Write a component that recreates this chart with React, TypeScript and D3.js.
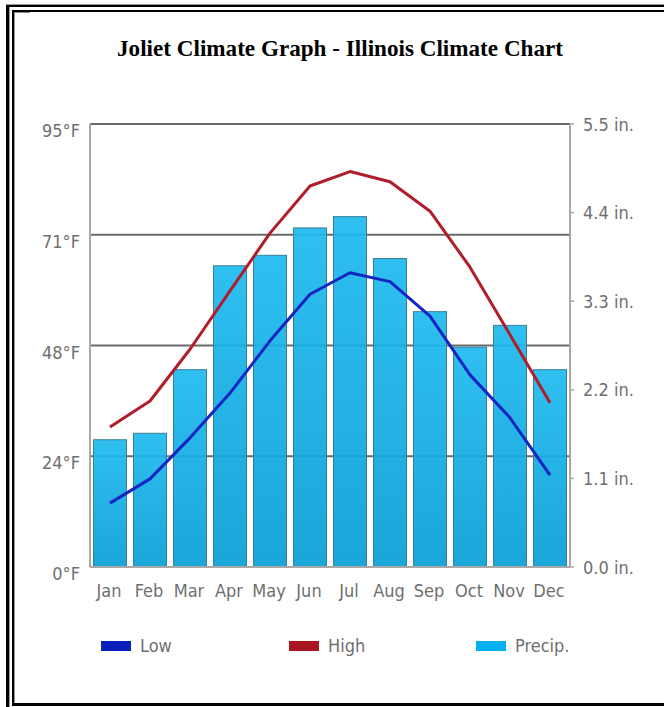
import React from "react";
import * as d3 from "d3";

const months = ["Jan", "Feb", "Mar", "Apr", "May", "Jun", "Jul", "Aug", "Sep", "Oct", "Nov", "Dec"];
const highF = [30, 35.6, 46.7, 59.2, 71.6, 81.7, 84.8, 82.6, 76.3, 64.3, 49.8, 35.2];
const lowF = [13.7, 18.9, 27.7, 37.3, 48.5, 58.5, 63.1, 61.2, 53.8, 41.2, 32, 19.7];
const precipIn = [1.58, 1.66, 2.45, 3.74, 3.87, 4.21, 4.35, 3.83, 3.17, 2.73, 3.0, 2.45];
const leftTickLabels = ["0°F", "24°F", "48°F", "71°F", "95°F"];
const leftTickValues = [0, 23.75, 47.5, 71.25, 95];
const rightTickValues = [0, 1.1, 2.2, 3.3, 4.4, 5.5];
const legendItems = [
  { label: "Low", color: "#0c1fbd" },
  { label: "High", color: "#a8151f" },
  { label: "Precip.", color: "#00b0f0" },
];

const W = 664;
const H = 707;
const plotLeft = 90;
const plotRight = 570;
const plotTop = 124;
const plotBottom = 567;

const labelFont = "'DejaVu Sans Condensed', 'DejaVu Sans', sans-serif";

export default function App() {
  const x = d3.scaleBand<string>().domain(months).range([plotLeft, plotRight]).paddingInner(0.175).paddingOuter(0.0875);
  const yT = d3.scaleLinear().domain([0, 95]).range([plotBottom, plotTop]);
  const yP = d3.scaleLinear().domain([0, 5.5]).range([plotBottom, plotTop]);
  const cx = (m: string) => (x(m) as number) + x.bandwidth() / 2;

  const lineHigh = d3.line<number>().x((_, i) => cx(months[i])).y((d) => yT(d))(highF) as string;
  const lineLow = d3.line<number>().x((_, i) => cx(months[i])).y((d) => yT(d))(lowF) as string;

  const legendX = [101, 289, 476];

  return (
    <svg width={W} height={H} style={{ position: "absolute", left: 0, top: 0, background: "#fff" }}>
      <defs>
        <linearGradient id="barGrad" x1="0" y1="0" x2="0" y2="1">
          <stop offset="0%" stopColor="#1fbaef" />
          <stop offset="100%" stopColor="#0a9fd7" />
        </linearGradient>
      </defs>
      <rect x={0} y={0} width={W} height={H} fill="#fff" />
      {/* frame */}
      <line x1={7.5} y1={5} x2={7.5} y2={H} stroke="#000" strokeWidth={3} />
      <line x1={9.5} y1={7} x2={9.5} y2={H} stroke="#999" strokeWidth={1} />
      <line x1={6} y1={4.5} x2={W} y2={4.5} stroke="#999" strokeWidth={1} />
      <line x1={6} y1={6} x2={W} y2={6} stroke="#000" strokeWidth={2} />
      <line x1={13} y1={10} x2={13} y2={706} stroke="#000" strokeWidth={2} />
      <line x1={14.5} y1={12} x2={14.5} y2={706} stroke="#999" strokeWidth={1} />
      <line x1={12} y1={11} x2={W} y2={11} stroke="#000" strokeWidth={2} />
      <line x1={14} y1={12.5} x2={30} y2={12.5} stroke="#888" strokeWidth={1} />
      <line x1={12} y1={704.5} x2={W} y2={704.5} stroke="#000" strokeWidth={3} />

      <text
        x={340}
        y={56}
        textAnchor="middle"
        fontFamily="'Liberation Serif', 'DejaVu Serif', serif"
        fontWeight="bold"
        fontSize={24}
        textLength={446}
        lengthAdjust="spacingAndGlyphs"
        fill="#000"
      >
        Joliet Climate Graph - Illinois Climate Chart
      </text>

      {/* gridlines */}
      {leftTickValues.map((v, i) => (
        <line key={"g" + i} x1={plotLeft} x2={plotRight} y1={yT(v)} y2={yT(v)} stroke="#6a6a6a" strokeWidth={2} />
      ))}

      {/* bars */}
      {precipIn.map((v, i) => (
        <rect
          key={"b" + i}
          x={x(months[i]) as number}
          y={yP(v)}
          width={x.bandwidth()}
          height={plotBottom - yP(v)}
          fill="url(#barGrad)"
          fillOpacity={0.93}
          stroke="#3a7f98"
          strokeWidth={1}
        />
      ))}

      {/* axes */}
      <line x1={plotLeft} x2={plotLeft} y1={plotTop} y2={plotBottom} stroke="#a8a8a8" strokeWidth={2} />
      <line x1={plotRight} x2={plotRight} y1={plotTop} y2={plotBottom} stroke="#a8a8a8" strokeWidth={2} />
      <line x1={plotLeft} x2={plotRight} y1={plotBottom} y2={plotBottom} stroke="#a8a8a8" strokeWidth={2} />
      {rightTickValues.map((v, i) => (
        <line key={"rt" + i} x1={plotRight} x2={plotRight + 4} y1={yP(v)} y2={yP(v)} stroke="#a8a8a8" strokeWidth={1.5} />
      ))}

      {/* lines */}
      <path d={lineHigh} fill="none" stroke="#b01d2b" strokeWidth={3} strokeLinejoin="round" />
      <path d={lineLow} fill="none" stroke="#1426c2" strokeWidth={3} strokeLinejoin="round" />

      {/* left labels */}
      {leftTickValues.map((v, i) => (
        <text key={"lt" + i} x={80} y={yT(v) + 13} textAnchor="end" fontFamily={labelFont} fontSize={18} fill="#6f6f6f">
          {leftTickLabels[i]}
        </text>
      ))}
      {/* right labels */}
      {rightTickValues.map((v, i) => (
        <text key={"rl" + i} x={583} y={yP(v) + 6.5} textAnchor="start" fontFamily={labelFont} fontSize={18} fill="#6f6f6f">
          {v.toFixed(1) + " in."}
        </text>
      ))}
      {/* x labels */}
      {months.map((m) => (
        <text key={m} x={cx(m) - 1} y={597} textAnchor="middle" fontFamily={labelFont} fontSize={18} fill="#6f6f6f">
          {m}
        </text>
      ))}

      {/* legend */}
      {legendItems.map((it, i) => (
        <g key={it.label}>
          <rect x={legendX[i]} y={641} width={30} height={10} fill={it.color} />
          <text x={legendX[i] + 39} y={652} fontFamily={labelFont} fontSize={18} fill="#6f6f6f">
            {it.label}
          </text>
        </g>
      ))}
    </svg>
  );
}
